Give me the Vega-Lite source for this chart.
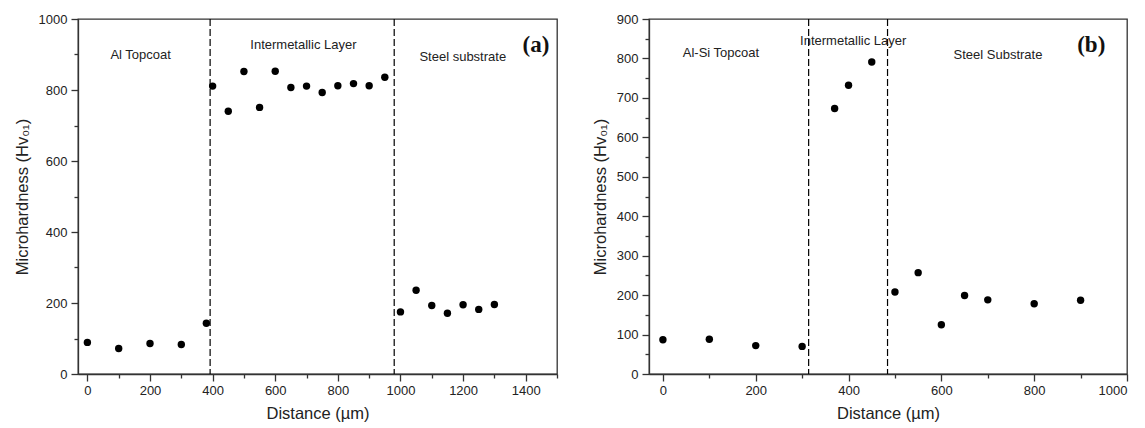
{
  "$schema": "https://vega.github.io/schema/vega-lite/v6.json",
  "background": "white",
  "padding": {"left": 13, "top": 12, "right": 18, "bottom": 5},
  "spacing": 32,
  "config": {
    "font": "Liberation Sans",
    "view": {"stroke": "#333", "strokeWidth": 1.3},
    "axis": {
      "grid": false,
      "ticks": true,
      "labelOverlap": false,
      "domainColor": "#333",
      "domainWidth": 1.3,
      "tickColor": "#333",
      "tickWidth": 1.3,
      "labelFont": "Liberation Sans",
      "labelFontSize": 13,
      "labelColor": "#222",
      "titleFont": "Liberation Sans",
      "titleFontSize": 16.5,
      "titleFontWeight": "normal",
      "titleColor": "#222"
    }
  },
  "hconcat": [
    {
      "width": 479,
      "height": 355,
      "resolve": {"axis": {"x": "independent", "y": "independent"}},
      "layer": [
        {
          "data": {"values": [
            {"distance": 0, "hardness": 89},
            {"distance": 100, "hardness": 72},
            {"distance": 200, "hardness": 86},
            {"distance": 300, "hardness": 83},
            {"distance": 380, "hardness": 143},
            {"distance": 400, "hardness": 811},
            {"distance": 450, "hardness": 740},
            {"distance": 500, "hardness": 852},
            {"distance": 550, "hardness": 751},
            {"distance": 600, "hardness": 853},
            {"distance": 650, "hardness": 807},
            {"distance": 700, "hardness": 811},
            {"distance": 750, "hardness": 793},
            {"distance": 800, "hardness": 812},
            {"distance": 850, "hardness": 818},
            {"distance": 900, "hardness": 812},
            {"distance": 950, "hardness": 836},
            {"distance": 1000, "hardness": 175},
            {"distance": 1050, "hardness": 236},
            {"distance": 1100, "hardness": 193},
            {"distance": 1150, "hardness": 171},
            {"distance": 1200, "hardness": 195},
            {"distance": 1250, "hardness": 182},
            {"distance": 1300, "hardness": 196}
          ]},
          "mark": {"type": "circle", "size": 55, "color": "black", "opacity": 1},
          "encoding": {
            "x": {
              "field": "distance", "type": "quantitative",
              "scale": {"domain": [-30, 1500], "nice": false, "zero": false},
              "axis": {
                "title": "Distance (µm)",
                "orient": "bottom",
                "values": [0, 100, 200, 300, 400, 500, 600, 700, 800, 900, 1000, 1100, 1200, 1300, 1400, 1500],
                "format": "d",
                "labelOverlap": false,
                "labelExpr": "datum.value % 200 === 0 ? datum.label : ''",
                "tickSize": 7,
                "tickDash": {"condition": {"test": "datum.value % 200 === 0", "value": []}, "value": [4, 20]},
                "labelPadding": 3,
                "titlePadding": 8
              }
            },
            "y": {
              "field": "hardness", "type": "quantitative",
              "scale": {"domain": [0, 1000], "nice": false},
              "axis": {
                "title": "Microhardness (Hv₀₁)",
                "orient": "left",
                "values": [0, 100, 200, 300, 400, 500, 600, 700, 800, 900, 1000],
                "format": "d",
                "labelOverlap": false,
                "labelExpr": "datum.value % 200 === 0 ? datum.label : ''",
                "tickSize": 7,
                "tickDash": {"condition": {"test": "datum.value % 200 === 0", "value": []}, "value": [4, 20]},
                "labelPadding": 4,
                "titlePadding": 8
              }
            }
          }
        },
        {
          "data": {"values": [{"boundary": 392}, {"boundary": 980}]},
          "mark": {"type": "rule", "strokeDash": [7, 3], "color": "black", "strokeWidth": 1.2},
          "encoding": {"x": {"field": "boundary", "type": "quantitative", "axis": null}}
        },
        {
          "data": {"values": [{"label": "Al Topcoat"}]},
          "mark": {"type": "text", "fontSize": 13, "color": "#222", "align": "center", "baseline": "middle"},
          "encoding": {"x": {"datum": 170, "axis": null}, "y": {"datum": 899, "axis": null}, "text": {"field": "label"}}
        },
        {
          "data": {"values": [{"label": "Intermetallic Layer"}]},
          "mark": {"type": "text", "fontSize": 13, "color": "#222", "align": "center", "baseline": "middle"},
          "encoding": {"x": {"datum": 690, "axis": null}, "y": {"datum": 927, "axis": null}, "text": {"field": "label"}}
        },
        {
          "data": {"values": [{"label": "Steel substrate"}]},
          "mark": {"type": "text", "fontSize": 13, "color": "#222", "align": "center", "baseline": "middle"},
          "encoding": {"x": {"datum": 1199, "axis": null}, "y": {"datum": 894, "axis": null}, "text": {"field": "label"}}
        },
        {
          "data": {"values": [{"label": "(a)"}]},
          "mark": {"type": "text", "fontSize": 23, "font": "Liberation Serif", "fontWeight": "bold", "color": "#111", "align": "center", "baseline": "middle"},
          "encoding": {"x": {"datum": 1433, "axis": null}, "y": {"datum": 927, "axis": null}, "text": {"field": "label"}}
        }
      ]
    },
    {
      "width": 478,
      "height": 355,
      "resolve": {"axis": {"x": "independent", "y": "independent"}},
      "layer": [
        {
          "data": {"values": [
            {"distance": 0, "hardness": 87},
            {"distance": 100, "hardness": 88},
            {"distance": 200, "hardness": 72},
            {"distance": 300, "hardness": 70},
            {"distance": 370, "hardness": 673},
            {"distance": 400, "hardness": 732},
            {"distance": 450, "hardness": 791},
            {"distance": 500, "hardness": 208},
            {"distance": 550, "hardness": 257},
            {"distance": 600, "hardness": 125},
            {"distance": 650, "hardness": 199},
            {"distance": 700, "hardness": 188},
            {"distance": 800, "hardness": 178},
            {"distance": 900, "hardness": 187}
          ]},
          "mark": {"type": "circle", "size": 55, "color": "black", "opacity": 1},
          "encoding": {
            "x": {
              "field": "distance", "type": "quantitative",
              "scale": {"domain": [-30, 1000], "nice": false, "zero": false},
              "axis": {
                "title": "Distance (µm)",
                "orient": "bottom",
                "values": [0, 100, 200, 300, 400, 500, 600, 700, 800, 900, 1000],
                "format": "d",
                "labelOverlap": false,
                "labelExpr": "datum.value % 200 === 0 ? datum.label : ''",
                "tickSize": 7,
                "tickDash": {"condition": {"test": "datum.value % 200 === 0", "value": []}, "value": [4, 20]},
                "labelPadding": 3,
                "titlePadding": 8
              }
            },
            "y": {
              "field": "hardness", "type": "quantitative",
              "scale": {"domain": [0, 900], "nice": false},
              "axis": {
                "title": "Microhardness (Hv₀₁)",
                "orient": "left",
                "values": [0, 50, 100, 150, 200, 250, 300, 350, 400, 450, 500, 550, 600, 650, 700, 750, 800, 850, 900],
                "format": "d",
                "labelOverlap": false,
                "labelExpr": "datum.value % 100 === 0 ? datum.label : ''",
                "tickSize": 7,
                "tickDash": {"condition": {"test": "datum.value % 100 === 0", "value": []}, "value": [4, 20]},
                "labelPadding": 4,
                "titlePadding": 8
              }
            }
          }
        },
        {
          "data": {"values": [{"boundary": 314}, {"boundary": 484}]},
          "mark": {"type": "rule", "strokeDash": [7, 3], "color": "black", "strokeWidth": 1.2},
          "encoding": {"x": {"field": "boundary", "type": "quantitative", "axis": null}}
        },
        {
          "data": {"values": [{"label": "Al-Si Topcoat"}]},
          "mark": {"type": "text", "fontSize": 13, "color": "#222", "align": "center", "baseline": "middle"},
          "encoding": {"x": {"datum": 125, "axis": null}, "y": {"datum": 813, "axis": null}, "text": {"field": "label"}}
        },
        {
          "data": {"values": [{"label": "Intermetallic Layer"}]},
          "mark": {"type": "text", "fontSize": 13, "color": "#222", "align": "center", "baseline": "middle"},
          "encoding": {"x": {"datum": 410, "axis": null}, "y": {"datum": 844, "axis": null}, "text": {"field": "label"}}
        },
        {
          "data": {"values": [{"label": "Steel Substrate"}]},
          "mark": {"type": "text", "fontSize": 13, "color": "#222", "align": "center", "baseline": "middle"},
          "encoding": {"x": {"datum": 722, "axis": null}, "y": {"datum": 809, "axis": null}, "text": {"field": "label"}}
        },
        {
          "data": {"values": [{"label": "(b)"}]},
          "mark": {"type": "text", "fontSize": 23, "font": "Liberation Serif", "fontWeight": "bold", "color": "#111", "align": "center", "baseline": "middle"},
          "encoding": {"x": {"datum": 923, "axis": null}, "y": {"datum": 834, "axis": null}, "text": {"field": "label"}}
        }
      ]
    }
  ]
}
